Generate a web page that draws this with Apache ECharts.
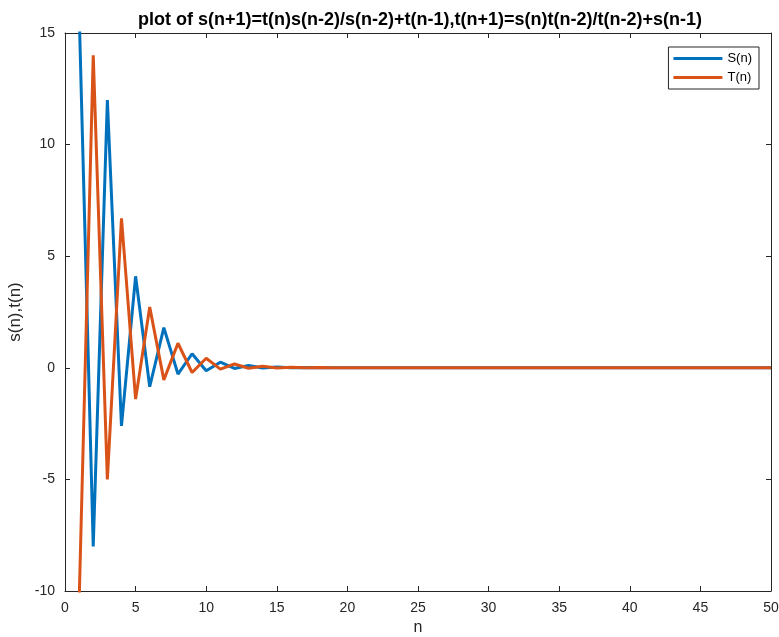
<!DOCTYPE html>
<html>
<head>
<meta charset="utf-8">
<script src="https://cdn.jsdelivr.net/npm/echarts@6/dist/echarts.min.js"></script>
<style>
  html, body { margin: 0; padding: 0; background: #fff; }
  #main { width: 779px; height: 637px; }
</style>
</head>
<body>
<div id="main"></div>
<script>
// values, n = 1..50
var nValues = [];
for (var i = 1; i <= 50; i++) nValues.push(i);

var sValues = [16, -8.0, 12.0, -2.6, 4.1, -0.85, 1.8, -0.28, 0.63, -0.13,
               0.25, -0.03, 0.1, -0.01, 0.04, 0, 0.015, 0, 0.006, 0,
               0.002, 0, 0, 0, 0, 0, 0, 0, 0, 0,
               0, 0, 0, 0, 0, 0, 0, 0, 0, 0,
               0, 0, 0, 0, 0, 0, 0, 0, 0, 0];
var tValues = [-10.5, 14.0, -5.0, 6.7, -1.4, 2.72, -0.54, 1.1, -0.21, 0.43,
               -0.06, 0.17, -0.02, 0.07, -0.005, 0.03, 0, 0.01, 0, 0.004,
               0, 0.001, 0, 0, 0, 0, 0, 0, 0, 0,
               0, 0, 0, 0, 0, 0, 0, 0, 0, 0,
               0, 0, 0, 0, 0, 0, 0, 0, 0, 0];
var seriesNames = ['S(n)', 'T(n)'];
var titleText = 'plot of s(n+1)=t(n)s(n-2)/s(n-2)+t(n-1),t(n+1)=s(n)t(n-2)/t(n-2)+s(n-1)';

function pairs(ys) {
    return nValues.map(function (n, k) { return [n, ys[k]]; });
}

var axisCol = '#262626';
var font = 'Liberation Sans, Arial, sans-serif';

var myChart = echarts.init(document.getElementById('main'));

var option = {
    backgroundColor: '#fff',
    animation: false,
    title: {
        text: titleText,
        left: 420,
        textAlign: 'center',
        top: 11,
        padding: 0,
        textStyle: { fontFamily: font, fontSize: 18, fontWeight: 'bold', color: '#000' }
    },
    legend: {
        data: seriesNames,
        orient: 'vertical',
        right: 20,
        top: 47,
        icon: 'rect',
        itemWidth: 49,
        itemHeight: 3,
        itemGap: 6,
        padding: [5, 7, 5, 5],
        borderColor: axisCol,
        borderWidth: 1,
        borderRadius: 0,
        backgroundColor: '#fff',
        textStyle: { fontFamily: font, fontSize: 13, color: '#000', padding: [0, 0, 0, 0] }
    },
    grid: { left: 65, right: 8, top: 33, bottom: 46, outerBoundsMode: 'none' },
    xAxis: [{
        type: 'value', min: 0, max: 50, interval: 5,
        name: 'n', nameLocation: 'middle', nameGap: 29,
        nameTextStyle: { fontFamily: font, fontSize: 16, color: axisCol },
        axisLine: { onZero: false, lineStyle: { color: axisCol } },
        axisTick: { inside: true, length: 5, lineStyle: { color: axisCol } },
        axisLabel: { fontFamily: font, fontSize: 14, color: axisCol, margin: 10 },
        splitLine: { show: false }
    }, {
        type: 'value', min: 0, max: 50, interval: 5, position: 'top',
        axisLine: { onZero: false, lineStyle: { color: axisCol } },
        axisTick: { inside: true, length: 5, lineStyle: { color: axisCol } },
        axisLabel: { show: false },
        splitLine: { show: false }
    }],
    yAxis: [{
        type: 'value', min: -10, max: 15, interval: 5,
        name: 's(n),t(n)', nameLocation: 'middle', nameGap: 38,
        nameTextStyle: { fontFamily: font, fontSize: 17, color: axisCol },
        axisLine: { show: true, onZero: false, lineStyle: { color: axisCol } },
        axisTick: { show: true, inside: true, length: 5, lineStyle: { color: axisCol } },
        axisLabel: { fontFamily: font, fontSize: 14, color: axisCol, margin: 10 },
        splitLine: { show: false }
    }, {
        type: 'value', min: -10, max: 15, interval: 5, position: 'right',
        axisLine: { show: true, onZero: false, lineStyle: { color: axisCol } },
        axisTick: { show: true, inside: true, length: 5, lineStyle: { color: axisCol } },
        axisLabel: { show: false },
        splitLine: { show: false }
    }],
    series: [{
        name: seriesNames[0],
        type: 'line',
        data: pairs(sValues),
        showSymbol: false,
        symbol: 'none',
        clip: true,
        color: '#0072BD',
        lineStyle: { width: 3, color: '#0072BD' }
    }, {
        name: seriesNames[1],
        type: 'line',
        data: pairs(tValues),
        showSymbol: false,
        symbol: 'none',
        clip: true,
        color: '#D95319',
        lineStyle: { width: 3, color: '#D95319' }
    }]
};
myChart.setOption(option);
</script>
</body>
</html>
